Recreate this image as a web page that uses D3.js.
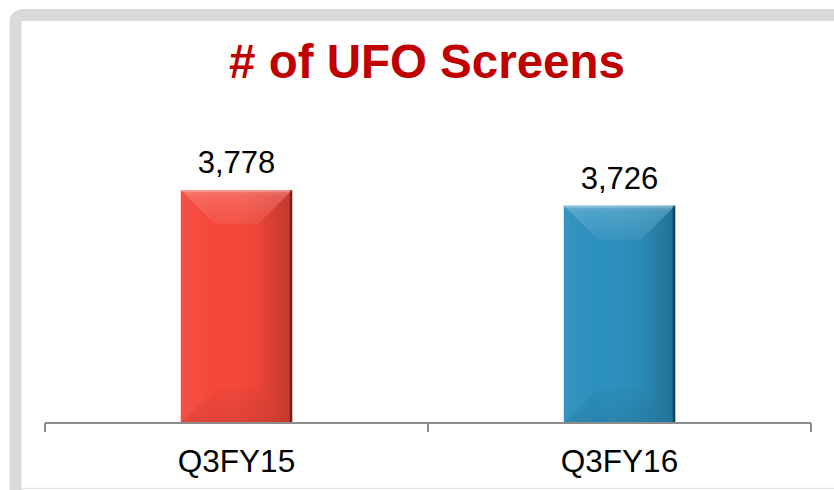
<!DOCTYPE html>
<html>
<head>
<meta charset="utf-8">
<script src="https://cdn.jsdelivr.net/npm/d3@7"></script>
<style>
  html, body { margin: 0; padding: 0; background: #fff; }
  svg { display: block; font-family: "Liberation Sans", Arial, sans-serif; }
</style>
</head>
<body>
<svg id="chart"></svg>
<script>
// data
let categories = ["Q3FY15", "Q3FY16"];
let values = [3778, 3726];
let axisMin = 3000;
let axisMax = 4000;
let chartTitle = "# of UFO Screens";

let barColors = ["#f5473a", "#2b8fbd"];

let width = 834, height = 490;
let svg = d3.select("#chart").attr("width", width).attr("height", height);

// frame
svg.append("rect")
  .attr("x", 15.5).attr("y", 15)
  .attr("width", 1000).attr("height", 1000)
  .attr("rx", 7)
  .attr("fill", "#fff")
  .attr("stroke", "#d9d9d9")
  .attr("stroke-width", 12);
svg.append("line")
  .attr("x1", 21).attr("x2", width)
  .attr("y1", 488.5).attr("y2", 488.5)
  .attr("stroke", "#e6e6e6").attr("stroke-width", 1.5);

// title
svg.append("text")
  .attr("x", 427).attr("y", 78)
  .attr("text-anchor", "middle")
  .style("font-size", "47.5px")
  .style("font-weight", "bold")
  .style("fill", "#c00000")
  .text(chartTitle);

let axisY = 423;
let scaleX = d3.scaleBand().domain(categories).range([45, 811]).padding(0);
let scaleY = d3.scaleLinear().domain([axisMin, axisMax]).range([axisY, 123.5]);
let barW = scaleX.bandwidth() * 0.291;

// gradients
let defs = svg.append("defs");
function grad(id, x1, y1, x2, y2, stops) {
  let g = defs.append("linearGradient").attr("id", id)
    .attr("x1", x1).attr("y1", y1).attr("x2", x2).attr("y2", y2);
  stops.forEach(s => g.append("stop").attr("offset", s[0])
    .attr("stop-color", s[1]).attr("stop-opacity", s[2]));
}
grad("bodyShade", 0, 0, 1, 0, [[0, "#fff", 0.05], [0.3, "#fff", 0.0], [0.7, "#000", 0.04], [1, "#000", 0.13]]);
grad("topShade", 0, 0, 0, 1, [[0, "#fff", 0.28], [0.2, "#fff", 0.16], [1, "#fff", 0.06]]);
grad("rightShade", 0, 0, 1, 0, [[0, "#000", 0.0], [1, "#000", 0.1]]);
grad("bottomShade", 0, 0, 0, 1, [[0, "#000", 0.02], [1, "#000", 0.08]]);

let bars = svg.selectAll(".bar")
  .data(categories.map((c, i) => ({ cat: c, val: values[i], col: barColors[i] })))
  .enter().append("g").attr("class", "bar");

bars.each(function (d) {
  let g = d3.select(this);
  let x0 = scaleX(d.cat) + scaleX.bandwidth() / 2 - barW / 2;
  let x1 = x0 + barW;
  let y0 = scaleY(d.val);
  let y1 = scaleY(axisMin);
  let b = 34;
  g.append("rect").attr("x", x0).attr("y", y0)
    .attr("width", barW).attr("height", y1 - y0).attr("fill", d.col);
  g.append("rect").attr("x", x0).attr("y", y0)
    .attr("width", barW).attr("height", y1 - y0).attr("fill", "url(#bodyShade)");
  // top facet
  g.append("polygon")
    .attr("points", [[x0, y0], [x1, y0], [x1 - b, y0 + b], [x0 + b, y0 + b]].join(" "))
    .attr("fill", "url(#topShade)");
  // right facet
  g.append("polygon")
    .attr("points", [[x1, y0], [x1, y1], [x1 - b, y1 - b], [x1 - b, y0 + b]].join(" "))
    .attr("fill", "url(#rightShade)");
  // bottom facet
  g.append("polygon")
    .attr("points", [[x0, y1], [x1, y1], [x1 - b, y1 - b], [x0 + b, y1 - b]].join(" "))
    .attr("fill", "url(#bottomShade)");
  // edges
  g.append("rect").attr("x", x0).attr("y", y0).attr("width", barW).attr("height", 2)
    .attr("fill", "#fff").attr("fill-opacity", 0.22);
  g.append("rect").attr("x", x1 - 2.5).attr("y", y0).attr("width", 2.5).attr("height", y1 - y0)
    .attr("fill", "#000").attr("fill-opacity", 0.4);

  // value label
  g.append("text")
    .attr("x", (x0 + x1) / 2).attr("y", y0 - 17)
    .attr("text-anchor", "middle")
    .style("font-size", "31px")
    .style("fill", "#000")
    .text(d3.format(",")(d.val));
});

// x axis
let ax = svg.append("g").attr("class", "x-axis");
ax.append("line")
  .attr("x1", 45).attr("x2", 811)
  .attr("y1", axisY).attr("y2", axisY)
  .attr("stroke", "#8c8c8c").attr("stroke-width", 2);
let tickPos = categories.map(c => scaleX(c)).concat([scaleX(categories[categories.length - 1]) + scaleX.bandwidth()]);
ax.selectAll(".tick")
  .data(tickPos)
  .enter().append("line")
  .attr("x1", d => d).attr("x2", d => d)
  .attr("y1", axisY).attr("y2", axisY + 9)
  .attr("stroke", "#8c8c8c").attr("stroke-width", 2);
ax.selectAll(".cat")
  .data(categories)
  .enter().append("text")
  .attr("x", d => scaleX(d) + scaleX.bandwidth() / 2)
  .attr("y", 472)
  .attr("text-anchor", "middle")
  .style("font-size", "31.5px")
  .style("fill", "#000")
  .text(d => d);
</script>
</body>
</html>
